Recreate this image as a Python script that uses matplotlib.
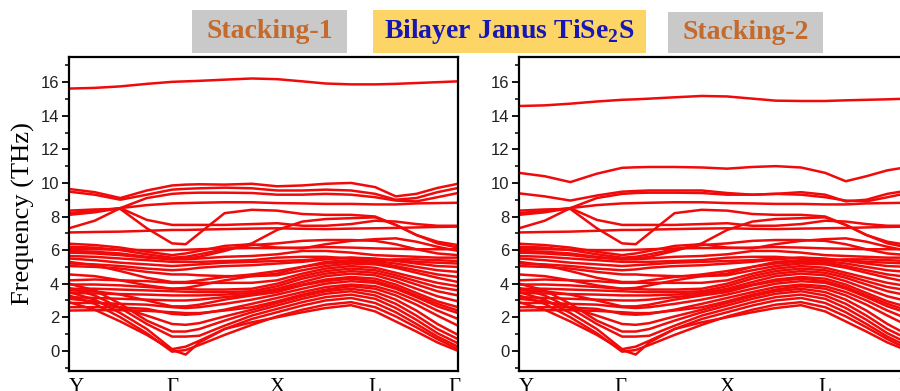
import matplotlib
matplotlib.use("Agg")
import matplotlib.pyplot as plt
from matplotlib.patches import Rectangle
from matplotlib.ticker import MultipleLocator

# ---------------------------------------------------------------- data
# path coordinate along Y - Γ - X - L - Γ (normalised)
K_PATH = [0.0, 0.066, 0.132, 0.2, 0.265, 0.30, 0.335, 0.40, 0.47,
          0.535, 0.60, 0.66, 0.725, 0.787, 0.84, 0.893, 0.947, 1.0]

PATH_LABELS = ["Y", "Γ", "X", "L", "Γ"]
PATH_LABEL_POS_1 = [0.02, 0.265, 0.535, 0.787, 0.992]
PATH_LABEL_POS_2 = [0.02, 0.262, 0.535, 0.787, 0.992]

# highest optical branch (THz)
TOP_BAND_S1 = [15.62, 15.66, 15.75, 15.9, 16.02, 16.05, 16.08, 16.15, 16.22,
               16.18, 16.05, 15.92, 15.87, 15.87, 15.9, 15.95, 16.0, 16.05]
TOP_BAND_S2 = [14.58, 14.62, 14.72, 14.85, 14.95, 14.98, 15.02, 15.1, 15.18,
               15.15, 15.02, 14.9, 14.88, 14.88, 14.92, 14.95, 14.98, 15.02]

# branches around 9-11 THz that differ between the two stackings
UPPER_BANDS_S1 = [
    [9.64, 9.45, 9.1, 9.55, 9.85, 9.9, 9.92, 9.9, 9.95, 9.8, 9.85, 9.95, 10.0, 9.75, 9.2, 9.35, 9.7, 9.95],
    [9.48, 9.3, 9.0, 9.3, 9.6, 9.65, 9.68, 9.72, 9.68, 9.55, 9.55, 9.6, 9.55, 9.35, 9.0, 9.1, 9.45, 9.7],
]
UPPER_BANDS_S2 = [
    [10.6, 10.4, 10.05, 10.55, 10.9, 10.93, 10.95, 10.95, 10.92, 10.85, 10.95, 11.0, 10.92, 10.6, 10.1, 10.4, 10.75, 10.95],
    [9.38, 9.2, 8.95, 9.25, 9.48, 9.52, 9.55, 9.55, 9.55, 9.4, 9.3, 9.35, 9.45, 9.3, 8.9, 9.0, 9.35, 9.55],
]

# optical branches 6-9.5 THz
OPTICAL_BANDS = [
    [7.3, 7.75, 8.5, 9.1, 9.35, 9.4, 9.42, 9.42, 9.4, 9.3, 9.3, 9.35, 9.3, 9.15, 8.95, 8.9, 9.15, 9.4],
    [8.1, 8.25, 8.5, 8.68, 8.78, 8.8, 8.82, 8.85, 8.85, 8.8, 8.78, 8.75, 8.75, 8.72, 8.72, 8.78, 8.8, 8.82],
    [8.35, 8.42, 8.45, 7.3, 6.4, 6.35, 7.0, 8.2, 8.4, 8.35, 8.15, 8.1, 8.1, 8.0, 7.5, 6.9, 6.5, 6.3],
    [8.2, 8.35, 8.5, 7.8, 7.5, 7.5, 7.5, 7.5, 7.55, 7.6, 7.45, 7.45, 7.55, 7.75, 7.7, 7.55, 7.45, 7.45],
    [7.05, 7.08, 7.1, 7.15, 7.2, 7.2, 7.22, 7.25, 7.28, 7.3, 7.27, 7.25, 7.28, 7.3, 7.32, 7.35, 7.38, 7.4],
    [5.95, 5.9, 5.8, 5.6, 5.45, 5.5, 5.6, 5.95, 6.4, 7.2, 7.7, 7.85, 7.9, 7.95, 7.5, 6.9, 6.4, 6.15],
]

# branches 4-6.5 THz
MID_BANDS = [
    [4.55, 4.45, 4.2, 3.9, 3.7, 3.75, 3.9, 4.2, 4.45, 4.5, 4.8, 5.05, 5.2, 5.15, 4.95, 4.65, 4.35, 4.1],
    [5.3, 5.1, 4.75, 4.35, 4.1, 4.1, 4.2, 4.4, 4.55, 4.75, 5.0, 5.2, 5.3, 5.25, 5.05, 4.8, 4.55, 4.4],
    [5.05, 5.0, 4.9, 4.7, 4.55, 4.55, 4.5, 4.45, 4.45, 4.6, 5.0, 5.3, 5.4, 5.35, 5.2, 5.0, 4.8, 4.7],
    [5.2, 5.15, 5.05, 4.9, 4.8, 4.85, 4.95, 5.05, 5.1, 5.2, 5.3, 5.45, 5.55, 5.5, 5.35, 5.2, 5.05, 5.0],
    [5.5, 5.4, 5.25, 5.15, 5.05, 5.1, 5.15, 5.25, 5.3, 5.35, 5.4, 5.5, 5.55, 5.45, 5.4, 5.3, 5.25, 5.2],
    [5.65, 5.6, 5.5, 5.4, 5.3, 5.3, 5.3, 5.35, 5.4, 5.55, 5.6, 5.6, 5.5, 5.4, 5.45, 5.45, 5.4, 5.35],
    [5.85, 5.8, 5.7, 5.55, 5.45, 5.45, 5.5, 5.6, 5.65, 5.75, 5.95, 5.95, 5.85, 5.7, 5.65, 5.6, 5.55, 5.55],
    [6.05, 6.05, 6.02, 6.0, 6.0, 6.02, 6.05, 6.1, 6.12, 6.12, 6.15, 6.18, 6.15, 6.1, 6.08, 6.05, 6.05, 6.05],
    [6.2, 6.15, 6.0, 5.75, 5.55, 5.6, 5.75, 6.05, 6.3, 6.4, 6.55, 6.6, 6.6, 6.55, 6.35, 6.05, 5.8, 5.7],
    [6.38, 6.3, 6.15, 5.9, 5.7, 5.8, 5.95, 6.25, 6.35, 6.15, 6.1, 6.35, 6.55, 6.65, 6.7, 6.5, 6.2, 5.95],
]

# branches 2-5 THz
LOW_BANDS = [
    [2.6, 2.6, 2.58, 2.5, 2.2, 2.15, 2.2, 2.45, 2.8, 3.15, 3.5, 3.8, 3.95, 3.85, 3.5, 3.0, 2.4, 1.9],
    [2.85, 2.85, 2.8, 2.75, 2.6, 2.55, 2.6, 2.8, 3.05, 3.35, 3.7, 4.0, 4.15, 4.05, 3.7, 3.2, 2.65, 2.25],
    [3.2, 3.15, 3.1, 3.05, 3.0, 3.0, 3.05, 3.2, 3.35, 3.6, 3.95, 4.25, 4.4, 4.3, 3.95, 3.45, 2.95, 2.6],
    [3.45, 3.42, 3.38, 3.35, 3.3, 3.3, 3.3, 3.35, 3.45, 3.7, 4.1, 4.45, 4.6, 4.5, 4.15, 3.7, 3.25, 2.95],
    [3.7, 3.7, 3.65, 3.6, 3.55, 3.52, 3.5, 3.5, 3.55, 3.85, 4.3, 4.6, 4.75, 4.65, 4.35, 3.95, 3.55, 3.3],
    [3.95, 3.95, 3.9, 3.8, 3.7, 3.68, 3.65, 3.65, 3.7, 4.0, 4.45, 4.75, 4.9, 4.8, 4.5, 4.15, 3.8, 3.6],
    [4.2, 4.25, 4.2, 4.15, 4.05, 4.05, 4.05, 4.05, 4.05, 4.2, 4.6, 4.9, 5.05, 4.95, 4.65, 4.35, 4.05, 3.85],
    [3.6, 3.55, 3.35, 3.0, 2.65, 2.65, 2.75, 3.05, 3.3, 3.5, 3.9, 4.15, 4.3, 4.15, 3.8, 3.3, 2.8, 2.4],
]

# acoustic and interlayer branches
ACOUSTIC_BANDS = [
    [2.9, 2.45, 1.75, 0.95, 0.05, -0.22, 0.5, 1.3, 1.7, 2.0, 2.3, 2.55, 2.72, 2.35, 1.75, 1.15, 0.5, 0.0],
    [3.3, 2.8, 2.0, 1.05, -0.05, 0.05, 0.35, 0.95, 1.55, 2.05, 2.45, 2.75, 2.9, 2.6, 2.05, 1.4, 0.7, 0.1],
    [3.5, 3.05, 2.25, 1.3, 0.1, 0.25, 0.6, 1.3, 1.9, 2.3, 2.7, 3.0, 3.15, 2.85, 2.3, 1.6, 0.85, 0.25],
    [3.75, 3.3, 2.55, 1.6, 0.85, 0.85, 0.9, 1.5, 2.1, 2.5, 2.9, 3.2, 3.35, 3.1, 2.55, 1.85, 1.05, 0.45],
    [4.0, 3.6, 2.8, 1.8, 1.15, 1.15, 1.3, 1.8, 2.3, 2.7, 3.1, 3.4, 3.55, 3.3, 2.8, 2.1, 1.3, 0.7],
    [3.1, 2.95, 2.6, 2.1, 1.6, 1.55, 1.65, 2.05, 2.45, 2.85, 3.25, 3.55, 3.7, 3.5, 3.05, 2.4, 1.6, 0.95],
    [2.4, 2.42, 2.42, 2.38, 2.3, 2.25, 2.25, 2.4, 2.6, 2.95, 3.35, 3.65, 3.85, 3.7, 3.3, 2.75, 2.1, 1.5],
]

# ---------------------------------------------------------------- style
LINE_COLOR = "#f00a0a"
SERIF = ["Liberation Serif", "DejaVu Serif"]
SANS = ["Liberation Sans", "DejaVu Sans"]

plt.rcParams["mathtext.fontset"] = "custom"
plt.rcParams["mathtext.rm"] = "Liberation Serif"
plt.rcParams["mathtext.bf"] = "Liberation Serif:bold"

W, H = 900, 391
fig = plt.figure(figsize=(W / 100, H / 100), dpi=100)


def px_box(x0, y0, x1, y1):
    """Convert a pixel box (top-left origin) to figure fractions."""
    return [x0 / W, 1 - y1 / H, (x1 - x0) / W, (y1 - y0) / H]


def draw_panel(ax, bands, label_pos):
    for band in bands:
        ax.plot(K_PATH, band, color=LINE_COLOR, lw=1.8,
                solid_joinstyle="round", solid_capstyle="round")
    ax.set_xlim(0, 1)
    ax.set_ylim(-1.2, 17.5)
    ax.yaxis.set_major_locator(MultipleLocator(2))
    ax.yaxis.set_minor_locator(MultipleLocator(1))
    ax.set_yticks(range(0, 17, 2))
    ax.tick_params(axis="y", which="major", direction="out", length=5,
                   width=1.3, pad=2, labelsize=12, left=True, right=False)
    ax.tick_params(axis="y", which="minor", direction="out", length=3,
                   width=1.1, left=True, right=False)
    for lab in ax.get_yticklabels():
        lab.set_family(SANS)
        lab.set_color("#222222")
    ax.set_xticks(label_pos)
    ax.set_xticklabels(PATH_LABELS, family=SERIF, fontsize=15)
    ax.tick_params(axis="x", length=0, pad=5)
    for sp in ax.spines.values():
        sp.set_linewidth(1.6)


ax1 = fig.add_axes(px_box(69, 57, 458, 371))
draw_panel(ax1, [TOP_BAND_S1] + UPPER_BANDS_S1 + OPTICAL_BANDS + MID_BANDS
           + LOW_BANDS + ACOUSTIC_BANDS, PATH_LABEL_POS_1)
ax1.set_ylabel("Frequency (THz)", family=SERIF, fontsize=19, labelpad=4)

ax2 = fig.add_axes(px_box(519, 57, 908, 371))
draw_panel(ax2, [TOP_BAND_S2] + UPPER_BANDS_S2 + OPTICAL_BANDS + MID_BANDS
           + LOW_BANDS + ACOUSTIC_BANDS, PATH_LABEL_POS_2)

# ---------------------------------------------------------------- headers
headers = [
    ((192, 10, 347, 53), "#c9c9c9", "Stacking-1", "#c46a2c"),
    ((373, 10, 646, 53), "#fdd566", r"Bilayer Janus TiSe$_\mathbf{2}$S", "#1717b5"),
    ((668, 12, 823, 53), "#c9c9c9", "Stacking-2", "#c46a2c"),
]
for (x0, y0, x1, y1), face, text, tcolor in headers:
    l, b, w, h = px_box(x0, y0, x1, y1)
    fig.add_artist(Rectangle((l, b), w, h, transform=fig.transFigure,
                             facecolor=face, edgecolor="none"))
    fig.text(l + w / 2, b + h / 2, text, ha="center", va="center",
             fontsize=20, fontweight="bold", family=SERIF, color=tcolor)

fig.savefig("out.png", dpi=100)
